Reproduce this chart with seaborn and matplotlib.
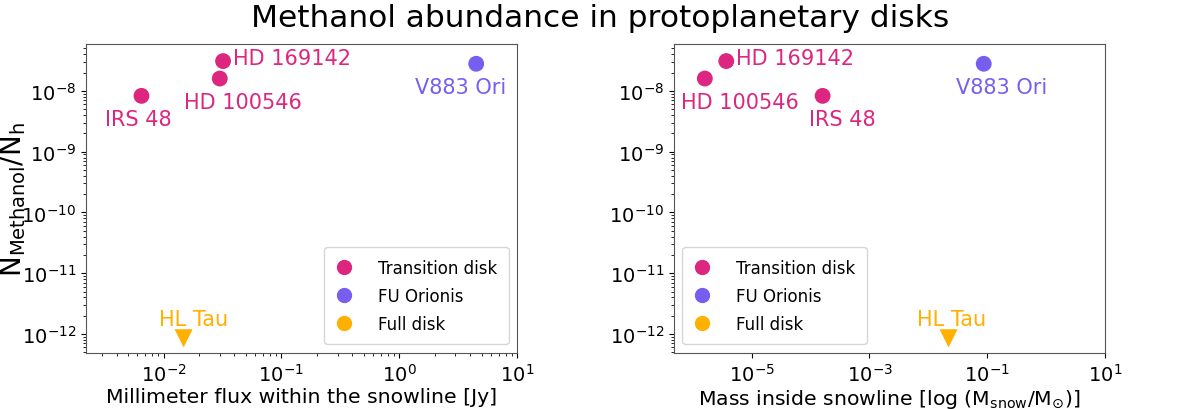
import matplotlib
import pandas as pd
import seaborn as sns
import matplotlib.pyplot as plt
from matplotlib.lines import Line2D

matplotlib.rcParams['font.family'] = ['DejaVu Sans']

# data
names = ['IRS 48', 'HD 100546', 'HD 169142', 'V883 Ori', 'HL Tau']
disk_type = ['Transition disk', 'Transition disk', 'Transition disk', 'FU Orionis', 'Full disk']
mm_flux = [6.5e-3, 0.030, 0.032, 4.5, 0.0148]          # Jy
mass_snow = [1.6e-4, 1.6e-6, 3.7e-6, 0.087, 0.022]     # Msnow/Msun
abundance = [8.3e-9, 1.6e-8, 3.1e-8, 2.8e-8, 8.5e-13]
upper_limit = [False, False, False, False, True]

type_order = ['Transition disk', 'FU Orionis', 'Full disk']
PALETTE = {'Transition disk': '#dc267f', 'FU Orionis': '#785ef0', 'Full disk': '#ffb000'}

df = pd.DataFrame({'name': names, 'type': disk_type, 'flux': mm_flux,
                   'mass': mass_snow, 'abund': abundance, 'ul': upper_limit})

# label offsets in points (dx, dy, ha)
OFFS_L = {'IRS 48': (-2, -17, 'center'), 'HD 100546': (17, -17, 'center'),
          'HD 169142': (7, 2, 'left'), 'V883 Ori': (-11, -17, 'center'),
          'HL Tau': (7, 14, 'center')}
OFFS_R = {'IRS 48': (14, -17, 'center'), 'HD 100546': (25, -17, 'center'),
          'HD 169142': (7, 2, 'left'), 'V883 Ori': (13, -17, 'center'),
          'HL Tau': (2, 14, 'center')}

fig = plt.figure(figsize=(12, 4.1), dpi=100)
ax1 = fig.add_axes([0.0717, 0.137, 0.3592, 0.753])
ax2 = fig.add_axes([0.5617, 0.137, 0.3592, 0.753])

def panel(ax, xcol, offs, xlim, xlabel, legend_loc):
    det = df[~df.ul]
    lim = df[df.ul]
    sns.scatterplot(data=det, x=xcol, y='abund', hue='type', palette=PALETTE,
                    s=130, marker='o', edgecolor='none', legend=False, ax=ax)
    sns.scatterplot(data=lim, x=xcol, y='abund', hue='type', palette=PALETTE,
                    s=170, marker='v', edgecolor='none', legend=False, ax=ax)
    ax.set_xscale('log')
    ax.set_yscale('log')
    ax.set_xlim(*xlim)
    ax.set_ylim(4.9e-13, 5.9e-8)
    for _, r in df.iterrows():
        dx, dy, ha = offs[r['name']]
        ax.annotate(r['name'], (r[xcol], r['abund']), xytext=(dx, dy),
                    textcoords='offset points', ha=ha, va='center',
                    fontsize=15, color=PALETTE[r['type']])
    ax.set_xlabel(xlabel, fontsize=14.7, labelpad=2)
    ax.set_ylabel('')
    ax.tick_params(labelsize=14)
    handles = [Line2D([], [], marker='o', ls='', color=PALETTE[t], markersize=10, label=t)
               for t in type_order]
    ax.legend(handles=handles, loc=legend_loc, fontsize=12, borderpad=0.7,
              labelspacing=0.6, handlelength=1.0, handletextpad=1.5)
    for sp in ax.spines.values():
        sp.set_color('#555555')

panel(ax1, 'flux', OFFS_L, (2.2e-3, 10), 'Millimeter flux within the snowline [Jy]', 'lower right')
panel(ax2, 'mass', OFFS_R, (4.8e-7, 10),
      r'Mass inside snowline [log (M$_{\rm snow}$/M$_{\odot}$)]', 'lower left')
ax1.set_ylabel(r'$\mathrm{N_{Methanol}/N_h}$', fontsize=20)
ax1.yaxis.set_label_coords(-0.135, 0.5)

fig.suptitle('Methanol abundance in protoplanetary disks', fontsize=22.5, y=0.99)

plt.savefig('out.png', dpi=100)
